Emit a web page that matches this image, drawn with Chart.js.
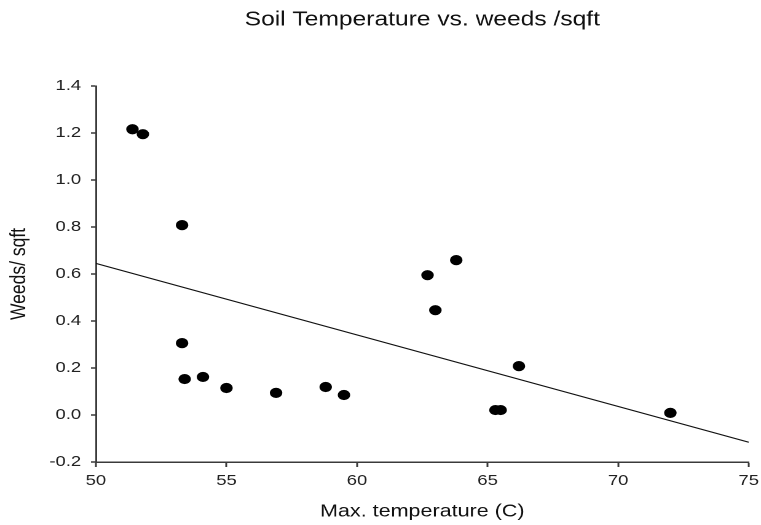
<!DOCTYPE html>
<html>
<head>
<meta charset="utf-8">
<script src="https://cdn.jsdelivr.net/npm/chart.js@4/dist/chart.umd.min.js"></script>
<style>
  html, body { margin: 0; padding: 0; background: #fff; overflow: hidden; }
  /* the reference picture is stretched sideways, so the chart is too */
  #wrap { width: 619px; height: 525px; transform: scaleX(1.2294); transform-origin: 0 0; }
</style>
</head>
<body>
<div id="wrap"><canvas id="soilChart" width="619" height="525"></canvas></div>
<script>
// Max. temperature (C) and weeds per sqft
const maxTemp = [51.4, 51.8, 53.3, 53.3, 53.4, 54.1, 55.0, 56.9, 58.8, 59.5, 62.7, 63.8, 63.0, 66.2, 65.3, 65.5, 72.0];
const weeds   = [1.216, 1.195, 0.808, 0.306, 0.153, 0.162, 0.115, 0.094, 0.119, 0.085, 0.595, 0.659, 0.446, 0.208, 0.021, 0.021, 0.009];

// regression line end points
const fitTemp  = [50, 75];
const fitWeeds = [0.645, -0.116];

const xTicks = [50, 55, 60, 65, 70, 75];
const yTicks = [-0.2, 0.0, 0.2, 0.4, 0.6, 0.8, 1.0, 1.2, 1.4];

const fontFamily = "'Liberation Sans', Arial, sans-serif";
const axisColor = '#3a3a3a';

new Chart(document.getElementById('soilChart'), {
  type: 'scatter',
  data: {
    datasets: [
      {
        label: 'Weeds',
        data: maxTemp.map((t, i) => ({ x: t, y: weeds[i] })),
        backgroundColor: '#000',
        borderColor: '#000',
        pointRadius: 4.6,
        pointHoverRadius: 4.6
      },
      {
        label: 'Fit',
        type: 'line',
        data: fitTemp.map((t, i) => ({ x: t, y: fitWeeds[i] })),
        borderColor: '#111',
        borderWidth: 1.1,
        pointRadius: 0,
        fill: false
      }
    ]
  },
  options: {
    responsive: false,
    animation: false,
    devicePixelRatio: 2,
    layout: { padding: { left: 0, right: 10, top: 0, bottom: 0 } },
    plugins: {
      legend: { display: false },
      tooltip: { enabled: false },
      title: {
        display: true,
        text: 'Soil Temperature vs. weeds /sqft',
        fullSize: false,
        color: '#111',
        font: { family: fontFamily, size: 20, weight: 'normal' },
        padding: { top: 8, bottom: 54 }
      }
    },
    scales: {
      x: {
        type: 'linear',
        min: 50,
        max: 75,
        afterBuildTicks: scale => { scale.ticks = xTicks.map(v => ({ value: v })); },
        afterFit: scale => {
          scale.height = 63;
          scale.paddingLeft = 0;
          scale.paddingRight = 0;
        },
        ticks: {
          color: '#222',
          padding: 5,
          font: { family: fontFamily, size: 15 }
        },
        grid: {
          drawOnChartArea: false,
          drawTicks: true,
          tickLength: 5,
          tickColor: axisColor,
          tickWidth: 1.5
        },
        border: { display: true, color: axisColor, width: 1.5 },
        title: {
          display: true,
          text: 'Max. temperature (C)',
          color: '#111',
          font: { family: fontFamily, size: 17.5 },
          padding: { top: 3, bottom: 3 }
        }
      },
      y: {
        type: 'linear',
        min: -0.2,
        max: 1.4,
        afterBuildTicks: scale => { scale.ticks = yTicks.map(v => ({ value: v })); },
        afterFit: scale => { scale.width = 78; },
        ticks: {
          color: '#222',
          padding: 8,
          font: { family: fontFamily, size: 15 },
          callback: value => value.toFixed(1)
        },
        grid: {
          drawOnChartArea: false,
          drawTicks: true,
          tickLength: 4,
          tickColor: axisColor,
          tickWidth: 1.5
        },
        border: { display: true, color: axisColor, width: 1.5 },
        title: {
          display: true,
          text: 'Weeds/ sqft',
          color: '#111',
          font: { family: fontFamily, size: 17.5 },
          padding: { top: 5, bottom: 5 }
        }
      }
    }
  }
});
</script>
</body>
</html>
